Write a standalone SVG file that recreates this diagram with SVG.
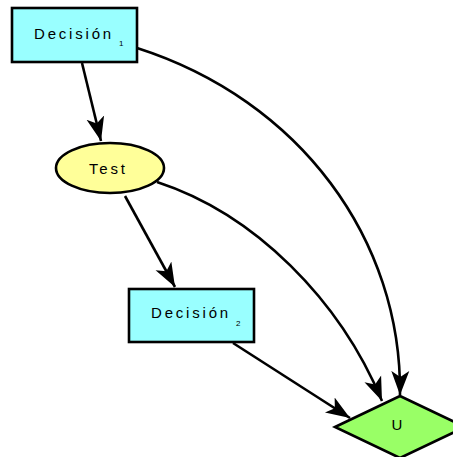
<svg xmlns="http://www.w3.org/2000/svg" width="453" height="457" viewBox="0 0 453 457">
  <style>
    .box { fill: #99ffff; stroke: #000; stroke-width: 2.6; }
    .oval { fill: #ffff99; stroke: #000; stroke-width: 2.6; }
    .dia { fill: #99ff66; stroke: #000; stroke-width: 2.6; }
    .lbl { font-family: "Liberation Sans", Arial, sans-serif; font-size: 15px; letter-spacing: 2.8px; fill: #000; }
    .sub { font-family: "Liberation Sans", Arial, sans-serif; font-size: 8px; fill: #000; }
    .edge { fill: none; stroke: #000; stroke-width: 2.6; }
  </style>
  <defs>
    <marker id="arrow" markerUnits="userSpaceOnUse" markerWidth="26" markerHeight="20" viewBox="0 0 26 20" refX="24" refY="10" orient="auto">
      <path d="M0,1 L24,10 L0,19 L6,10 Z" fill="#000"/>
    </marker>
  </defs>
  <rect width="453" height="457" fill="#fff"/>

  <g id="connectors">
    <path class="edge" d="M82,63 L101,141" marker-end="url(#arrow)"/>
    <path class="edge" d="M137,48 C300,100 402,240 400,395" marker-end="url(#arrow)"/>
    <path class="edge" d="M157,182 C255,214 340,300 382,401" marker-end="url(#arrow)"/>
    <path class="edge" d="M125,196 L175,287" marker-end="url(#arrow)"/>
    <path class="edge" d="M233,343 L350,418" marker-end="url(#arrow)"/>
  </g>

  <g id="decision1">
    <rect class="box" x="12" y="8" width="125" height="54"/>
    <text class="lbl" x="34" y="39">Decisión</text>
    <text class="sub" x="119" y="46">1</text>
  </g>

  <g id="test">
    <ellipse class="oval" cx="110" cy="168" rx="54" ry="25"/>
    <text class="lbl" x="89" y="174">Test</text>
  </g>

  <g id="decision2">
    <rect class="box" x="129" y="289" width="125" height="53"/>
    <text class="lbl" x="151" y="318">Decisión</text>
    <text class="sub" x="236" y="326">2</text>
  </g>

  <g id="u">
    <polygon class="dia" points="335,427 400,396 465,427 400,458"/>
    <text class="lbl" x="397" y="430" text-anchor="middle" style="letter-spacing:0">U</text>
  </g>
</svg>
